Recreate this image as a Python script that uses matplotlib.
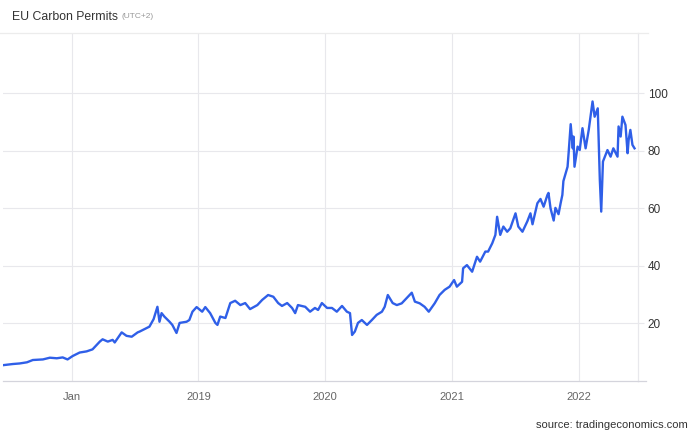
import numpy as np
import pandas as pd
import matplotlib
matplotlib.use("Agg")
import matplotlib.pyplot as plt
from matplotlib.lines import Line2D

plt.rcParams["font.family"] = ["Liberation Sans", "DejaVu Sans"]

# ---- data ----
dates = [
    "2017-06-17", "2017-07-15", "2017-08-04", "2017-08-25", "2017-09-11", "2017-10-10",
    "2017-10-30", "2017-11-19", "2017-12-06", "2017-12-20",
    "2018-01-04", "2018-01-24", "2018-02-13", "2018-03-02", "2018-03-23", "2018-03-31",
    "2018-04-15", "2018-04-29", "2018-05-05", "2018-05-25", "2018-06-08", "2018-06-23",
    "2018-07-10", "2018-07-16", "2018-08-13", "2018-08-25", "2018-09-05", "2018-09-11",
    "2018-09-17", "2018-09-25", "2018-10-10", "2018-10-18", "2018-10-30", "2018-11-08",
    "2018-11-28", "2018-12-06", "2018-12-15", "2018-12-27",
    "2019-01-12", "2019-01-21", "2019-02-04", "2019-02-19", "2019-02-25", "2019-03-05",
    "2019-03-20", "2019-04-03", "2019-04-17", "2019-05-02", "2019-05-16", "2019-05-30",
    "2019-06-20", "2019-07-04", "2019-07-21", "2019-08-05", "2019-08-19", "2019-08-30",
    "2019-09-14", "2019-09-28", "2019-10-07", "2019-10-15", "2019-11-05", "2019-11-19",
    "2019-12-03", "2019-12-12", "2019-12-23",
    "2020-01-07", "2020-01-21", "2020-02-04", "2020-02-19", "2020-03-04", "2020-03-13",
    "2020-03-19", "2020-03-27", "2020-04-05", "2020-04-16", "2020-05-01", "2020-05-15",
    "2020-05-29", "2020-06-13", "2020-06-21", "2020-06-30", "2020-07-14", "2020-07-26",
    "2020-08-09", "2020-08-27", "2020-09-07", "2020-09-16", "2020-09-30", "2020-10-14",
    "2020-10-26", "2020-11-12", "2020-11-26", "2020-12-11", "2020-12-25",
    "2021-01-07", "2021-01-15", "2021-01-30", "2021-02-02", "2021-02-13", "2021-02-28",
    "2021-03-14", "2021-03-23", "2021-04-07", "2021-04-15", "2021-04-27", "2021-05-06",
    "2021-05-11", "2021-05-20", "2021-05-29", "2021-06-09", "2021-06-18", "2021-07-03",
    "2021-07-11", "2021-07-23", "2021-08-06", "2021-08-15", "2021-08-21", "2021-09-04",
    "2021-09-13", "2021-09-22", "2021-10-03", "2021-10-06", "2021-10-12", "2021-10-21",
    "2021-10-26", "2021-11-04", "2021-11-10", "2021-11-15", "2021-11-18", "2021-11-30",
    "2021-12-03", "2021-12-09", "2021-12-15", "2021-12-17", "2021-12-20", "2021-12-29",
    "2022-01-04", "2022-01-12", "2022-01-21", "2022-01-30", "2022-02-10", "2022-02-16",
    "2022-02-25", "2022-02-27", "2022-03-03", "2022-03-07", "2022-03-12", "2022-03-25",
    "2022-04-03", "2022-04-11", "2022-04-23", "2022-04-26", "2022-05-02", "2022-05-07",
    "2022-05-16", "2022-05-22", "2022-05-25", "2022-05-30", "2022-06-05", "2022-06-11",
]
prices = [
    5.5, 5.9, 6.1, 6.5, 7.3, 7.5,
    8.1, 7.9, 8.2, 7.5,
    8.7, 9.9, 10.3, 11.0, 13.7, 14.5,
    13.7, 14.3, 13.4, 16.9, 15.7, 15.4,
    16.9, 17.2, 18.9, 21.5, 25.8, 20.6,
    23.6, 22.4, 20.6, 19.5, 16.7, 20.2,
    20.6, 21.2, 24.1, 25.7,
    24.1, 25.7, 23.6, 20.2, 19.5, 22.4,
    21.9, 27.1, 27.9, 26.4, 27.1, 25.0,
    26.4, 28.2, 29.9, 29.3, 27.1, 26.1,
    27.1, 25.4, 23.6, 26.4, 25.8, 24.1,
    25.4, 24.7, 27.1,
    25.4, 25.4, 24.1, 26.1, 24.1, 23.6,
    16.0, 17.2, 20.2, 21.2, 19.5, 21.2,
    23.0, 24.1, 25.8, 29.9, 27.1, 26.4,
    27.0, 29.3, 30.7, 27.6, 27.0, 25.8,
    24.1, 27.0, 29.9, 31.7, 32.8,
    35.1, 32.8, 34.5, 39.2, 40.3, 38.0,
    43.2, 41.5, 45.0, 45.0, 47.9, 50.8,
    57.1, 50.8, 53.7, 51.9, 53.1, 58.3,
    53.7, 51.9, 55.5, 58.3, 54.5, 61.8,
    63.3, 60.6, 64.7, 65.4, 60.0, 55.8,
    60.2, 58.0, 61.8, 64.7, 69.5, 74.5,
    79.2, 89.3, 80.9, 85.0, 74.5, 81.5,
    80.3, 87.9, 80.9, 87.3, 97.2, 91.9,
    94.8, 86.1, 69.9, 58.9, 76.3, 80.3,
    78.0, 80.9, 78.0, 88.5, 85.0, 91.9,
    89.0, 79.2, 83.8, 87.3, 82.1, 80.9,
]
tick_dates = ["2018-01-01", "2019-01-01", "2020-01-01", "2021-01-01", "2022-01-01"]
tick_labels = ["Jan", "2019", "2020", "2021", "2022"]
y_ticks = [20, 40, 60, 80, 100]

title = "EU Carbon Permits"
subtitle = "(UTC+2)"
source = "source: tradingeconomics.com"

# ---- figure ----
W, H = 694, 441
fig = plt.figure(figsize=(W / 100, H / 100), dpi=100)
ax = fig.add_axes([3 / W, 1 - 381 / H, 635 / W, 348 / H])

x = pd.to_datetime(dates)
ax.plot(x, prices, color="#2f5fe8", linewidth=1.7, solid_joinstyle="round")

ax.set_xlim(pd.Timestamp("2017-06-17"), pd.Timestamp("2022-06-21"))
ax.set_ylim(0, 121)

grid_c = "#e8e8ec"
ax.set_xticks(pd.to_datetime(tick_dates))
ax.set_xticklabels(tick_labels)
ax.set_yticks(y_ticks)
ax.yaxis.tick_right()
ax.grid(True, color=grid_c, linewidth=0.8)
ax.set_axisbelow(True)

ax.tick_params(axis="x", length=0, pad=8, labelsize=8, labelcolor="#666666")
ax.tick_params(axis="y", length=4, width=0.8, color=grid_c, pad=3,
               labelsize=8.5, labelcolor="#333333")

for s in ["left", "top"]:
    ax.spines[s].set_visible(False)
ax.spines["right"].set_color(grid_c)
ax.spines["bottom"].set_color("#d4d4dc")
ax.spines["right"].set_linewidth(0.9)
ax.spines["bottom"].set_linewidth(0.9)

# bottom axis line runs a little past the right edge
ax.add_line(Line2D([1.0, 1.012], [0, 0], transform=ax.transAxes,
                   color="#d4d4dc", linewidth=0.9, clip_on=False))

# thin rule under the title
fig.add_artist(Line2D([0, 648 / W], [1 - 33 / H, 1 - 33 / H],
                      transform=fig.transFigure, color="#ececec", linewidth=0.9))

t = fig.text(12 / W, 1 - 17 / H, title, fontsize=8.8, color="#333333", va="center")
fig.canvas.draw()
bb = t.get_window_extent()
fig.text((bb.x1 + 4) / W, 1 - 17 / H, subtitle, fontsize=6, color="#999999",
         va="center")
fig.text(688 / W, 1 - 425 / H, source, fontsize=8, color="#333333",
         ha="right", va="center")

fig.savefig("out.png", dpi=100)
